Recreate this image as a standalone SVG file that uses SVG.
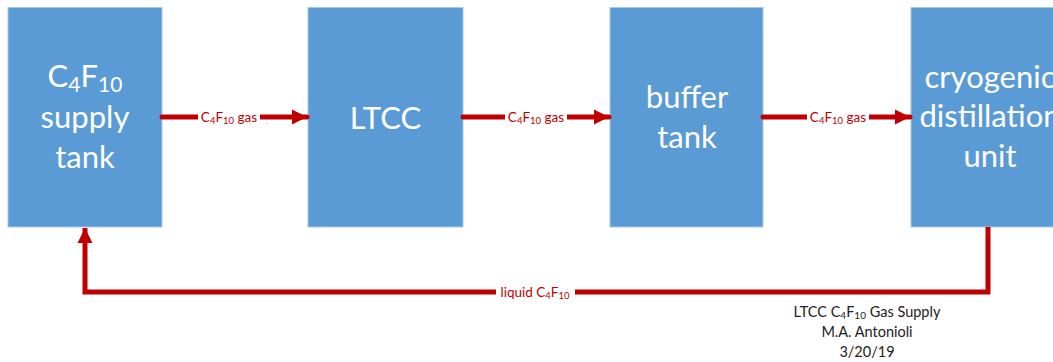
<svg xmlns="http://www.w3.org/2000/svg" width="1053" height="362" viewBox="0 0 1053 362">
<style>
.box{fill:#5B9BD5;stroke:#A9C6E6;stroke-width:1}
.bt{font-family:Lato,"Open Sans",sans-serif;font-size:31px;fill:#FFFFFF;text-anchor:middle}
.sub{font-size:21px}
.ln{fill:none;stroke:#C00000;stroke-width:5}
.lbl{font-family:Lato,"Open Sans",sans-serif;font-size:13.5px;fill:#C00000;text-anchor:middle}
.ls{font-size:9.5px}
.lb{fill:#FFFFFF}
.note{font-family:Lato,"Open Sans",sans-serif;font-size:14.5px;fill:#222222;text-anchor:middle}
.ns{font-size:10px}
</style>
<defs>
<marker id="ah" markerUnits="userSpaceOnUse" markerWidth="16" markerHeight="16" refX="15" refY="8" orient="auto" viewBox="0 0 16 16">
<path d="M0,0.5 L15,8 L0,15.5 Z" fill="#C00000"/>
</marker>
</defs>
<g id="supply">
<rect class="box" x="8" y="7.5" width="154" height="219.5"/>
<text class="bt" x="85" y="87">C<tspan class="sub" dy="5">4</tspan><tspan dy="-5">F</tspan><tspan class="sub" dy="5">10</tspan></text>
<text class="bt" x="85" y="128">supply</text>
<text class="bt" x="85" y="168">tank</text>
</g>
<g id="ltcc">
<rect class="box" x="308" y="7.5" width="155" height="219.5"/>
<text class="bt" x="385.5" y="129">LTCC</text>
</g>
<g id="buffer">
<rect class="box" x="610" y="7.5" width="153" height="219.5"/>
<text class="bt" x="687" y="108">buffer</text>
<text class="bt" x="687" y="148">tank</text>
</g>
<g id="cryo">
<rect class="box" x="911" y="7.5" width="158" height="219.5"/>
<text class="bt" x="990" y="88">cryogenic</text>
<text class="bt" x="990" y="127">distillation</text>
<text class="bt" x="990" y="167">unit</text>
</g>
<g id="connectors">
<path class="ln" d="M162,117 L307,117" stroke-linecap="round" marker-end="url(#ah)"/>
<path class="ln" d="M463,117 L609,117" stroke-linecap="round" marker-end="url(#ah)"/>
<path class="ln" d="M763,117 L910,117" stroke-linecap="round" marker-end="url(#ah)"/>
<path class="ln" d="M988,227 L988,292 L85,292 L85,228" marker-end="url(#ah)"/>
<rect class="lb" x="198" y="110" width="62" height="14"/>
<text class="lbl" x="229" y="122">C<tspan class="ls" dy="2">4</tspan><tspan dy="-2">F</tspan><tspan class="ls" dy="2">10</tspan><tspan dy="-2"> gas</tspan></text>
<rect class="lb" x="505" y="110" width="62" height="14"/>
<text class="lbl" x="536" y="122">C<tspan class="ls" dy="2">4</tspan><tspan dy="-2">F</tspan><tspan class="ls" dy="2">10</tspan><tspan dy="-2"> gas</tspan></text>
<rect class="lb" x="807" y="110" width="62" height="14"/>
<text class="lbl" x="838" y="122">C<tspan class="ls" dy="2">4</tspan><tspan dy="-2">F</tspan><tspan class="ls" dy="2">10</tspan><tspan dy="-2"> gas</tspan></text>
<rect class="lb" x="496" y="285" width="79" height="14"/>
<text class="lbl" x="535" y="297">liquid C<tspan class="ls" dy="2">4</tspan><tspan dy="-2">F</tspan><tspan class="ls" dy="2">10</tspan></text>
</g>
<g id="note">
<text class="note" x="867" y="317">LTCC C<tspan class="ns" dy="2">4</tspan><tspan dy="-2">F</tspan><tspan class="ns" dy="2">10</tspan><tspan dy="-2"> Gas Supply</tspan></text>
<text class="note" x="867" y="337">M.A. Antonioli</text>
<text class="note" x="867" y="357">3/20/19</text>
</g>
</svg>
